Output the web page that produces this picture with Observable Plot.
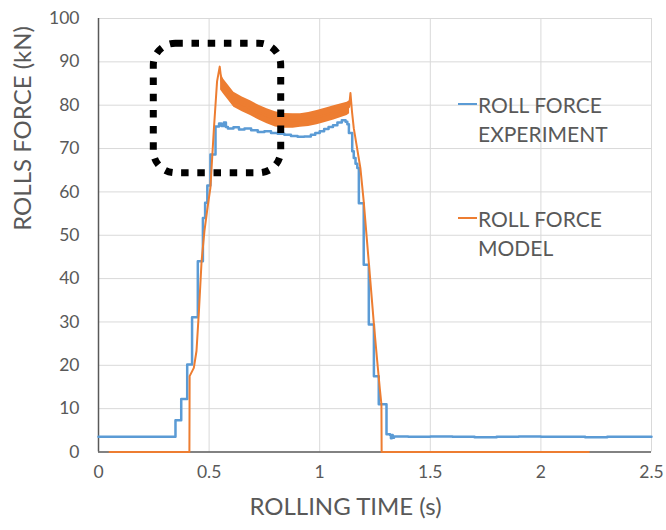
<!DOCTYPE html>
<html><head><meta charset="utf-8">
<script src="https://cdn.jsdelivr.net/npm/d3@7"></script>
<script src="https://cdn.jsdelivr.net/npm/@observablehq/plot@0.6"></script>
<style>
body{margin:0;background:#fff;}
#wrap{position:relative;width:666px;height:530px;font-family:Lato,sans-serif;}
.leg{position:absolute;left:478px;font-size:21px;line-height:29px;color:#595959;white-space:nowrap;}
.sw{position:absolute;left:458px;width:19px;height:2.5px;}
</style></head><body><div id="wrap"></div>
<script>
// Tick labels
const xTicks = [0, 0.5, 1, 1.5, 2, 2.5];
const yTicks = [0, 10, 20, 30, 40, 50, 60, 70, 80, 90, 100];
const xTitle = "ROLLING TIME (s)";
const yTitle = "ROLLS FORCE (kN)";
const seriesNames = ["ROLL FORCE\nEXPERIMENT", "ROLL FORCE\nMODEL"];

// Experiment (stepped)
const expTime = [0, 0.348, 0.374, 0.401, 0.423, 0.449, 0.472, 0.482, 0.492, 0.506, 0.529, 0.545, 0.556, 0.567, 0.576, 0.585, 0.61, 0.635, 0.66, 0.69, 0.72, 0.75, 0.78, 0.81, 0.84, 0.87, 0.9, 0.93, 0.96, 0.98, 1.0, 1.02, 1.04, 1.06, 1.08, 1.1, 1.117, 1.125, 1.132, 1.147, 1.154, 1.162, 1.17, 1.177, 1.199, 1.222, 1.245, 1.267, 1.302, 1.318, 1.322, 1.326, 1.33, 1.336, 1.4, 1.5, 1.6, 1.7, 1.8, 1.9, 2.0, 2.1, 2.2, 2.3, 2.4, 2.5];
const expForce = [3.5, 7.3, 12.2, 20.2, 31.1, 44.0, 54.0, 57.5, 61.5, 68.6, 75.1, 75.8, 75.2, 76.0, 75.0, 74.6, 74.9, 74.4, 74.6, 74.2, 73.8, 74.0, 73.6, 73.4, 73.2, 72.9, 72.7, 72.8, 73.2, 73.6, 74.0, 74.5, 75.0, 75.4, 76.0, 76.5, 76.2, 75.6, 73.6, 69.4, 67.8, 66.5, 65.5, 57.4, 43.2, 29.4, 17.5, 11.0, 4.1, 3.9, 3.2, 3.9, 3.3, 3.6, 3.5, 3.6, 3.5, 3.4, 3.5, 3.6, 3.5, 3.5, 3.4, 3.5, 3.5, 3.5];

// Model
const modelTime = [0.05, 0.411, 0.412, 0.431, 0.443, 0.454, 0.466, 0.479, 0.492, 0.506, 0.521, 0.536, 0.548, 0.556, 0.566, 0.612, 0.65, 0.687, 0.725, 0.762, 0.8, 0.84, 0.88, 0.913, 0.95, 0.988, 1.025, 1.064, 1.094, 1.124, 1.133, 1.139, 1.146, 1.154, 1.169, 1.184, 1.199, 1.214, 1.229, 1.245, 1.26, 1.272, 1.279, 1.28, 2.217];
const modelForce = [0, 0, 17.5, 19.4, 23.3, 32.5, 44.0, 51.0, 56.0, 61.0, 74.0, 85.5, 88.9, 85.5, 84.3, 81.3, 80.2, 79.3, 78.3, 77.5, 76.8, 76.4, 76.4, 76.5, 76.7, 77.2, 77.7, 78.3, 78.7, 79.2, 79.6, 82.8, 78.5, 74.7, 70.1, 65.5, 57.8, 48.6, 39.4, 29.5, 21.0, 14.5, 11.0, 0, 0];

// Model oscillation band
const bandTime = [0.552, 0.566, 0.612, 0.65, 0.687, 0.725, 0.762, 0.8, 0.84, 0.88, 0.913, 0.95, 0.988, 1.025, 1.064, 1.094, 1.124, 1.135];
const bandHigh = [87.5, 86.0, 83.0, 81.9, 81.0, 80.0, 79.2, 78.5, 78.1, 78.0, 78.0, 78.3, 78.8, 79.3, 79.9, 80.3, 80.7, 81.0];
const bandLow  = [83.5, 82.5, 79.5, 78.5, 77.6, 76.6, 75.7, 75.0, 74.7, 74.7, 74.9, 75.1, 75.5, 76.0, 76.6, 77.1, 77.6, 78.0];

// Highlight box (data units)
const boxTime = [0.25, 0.826];
const boxForce = [64.3, 94.2];

const colors = ["#5B9BD5", "#ED7D31"];

const exp = expTime.map((t, i) => ({t, f: expForce[i]}));
const model = modelTime.map((t, i) => ({t, f: modelForce[i]}));
const band = bandTime.map((t, i) => ({t, lo: bandLow[i], hi: bandHigh[i]}));
const box = [{x1: boxTime[0], x2: boxTime[1], y1: boxForce[0], y2: boxForce[1]}];

const chart = Plot.plot({
  width: 666, height: 530,
  marginLeft: 98, marginRight: 15, marginTop: 18, marginBottom: 78.5,
  style: {fontFamily: "Lato, sans-serif", fontSize: "17.5px", color: "#595959", background: "#fff"},
  x: {domain: [0, 2.5]},
  y: {domain: [0, 100]},
  marks: [
    Plot.gridX(xTicks.slice(1), {stroke: "#d9d9d9", strokeOpacity: 1, strokeWidth: 1}),
    Plot.gridY(yTicks.slice(1), {stroke: "#d9d9d9", strokeOpacity: 1, strokeWidth: 1}),
    Plot.axisX(xTicks, {tickSize: 0, tickPadding: 14, tickFormat: d => String(d), label: null}),
    Plot.axisY(yTicks, {tickSize: 0, tickPadding: 19, label: null}),
    Plot.ruleX([0], {stroke: "#595959", strokeWidth: 1.5}),
    Plot.ruleY([0], {stroke: "#595959", strokeWidth: 1.5}),
    Plot.line(exp, {x: "t", y: "f", curve: "step-after", stroke: colors[0], strokeWidth: 2.5}),
    Plot.areaY(band, {x: "t", y1: "lo", y2: "hi", fill: colors[1]}),
    Plot.line(model, {x: "t", y: "f", stroke: colors[1], strokeWidth: 2}),
    Plot.rect(box, {x1: "x1", x2: "x2", y1: "y1", y2: "y2", fill: "none", stroke: "black", strokeWidth: 7, strokeDasharray: "7.5,8.7", rx: 22}),
    Plot.text([xTitle], {frameAnchor: "bottom", dx: -29.5, dy: 62.5, fontSize: 24, fill: "#595959"}),
    Plot.text([yTitle], {frameAnchor: "left", rotate: -90, dx: -75.5, dy: -4.5, fontSize: 24, fill: "#595959"})
  ]
});

const wrap = document.getElementById("wrap");
wrap.appendChild(chart);

const legTops = [89.5, 203.5];
const swY = [104, 218];
seriesNames.forEach((name, i) => {
  const sw = document.createElement("div");
  sw.className = "sw";
  sw.style.top = (swY[i] - 1.25) + "px";
  sw.style.background = colors[i];
  wrap.appendChild(sw);
  const t = document.createElement("div");
  t.className = "leg";
  t.style.top = legTops[i] + "px";
  t.innerHTML = name.split("\n").join("<br>");
  wrap.appendChild(t);
});
</script>
</body></html>
